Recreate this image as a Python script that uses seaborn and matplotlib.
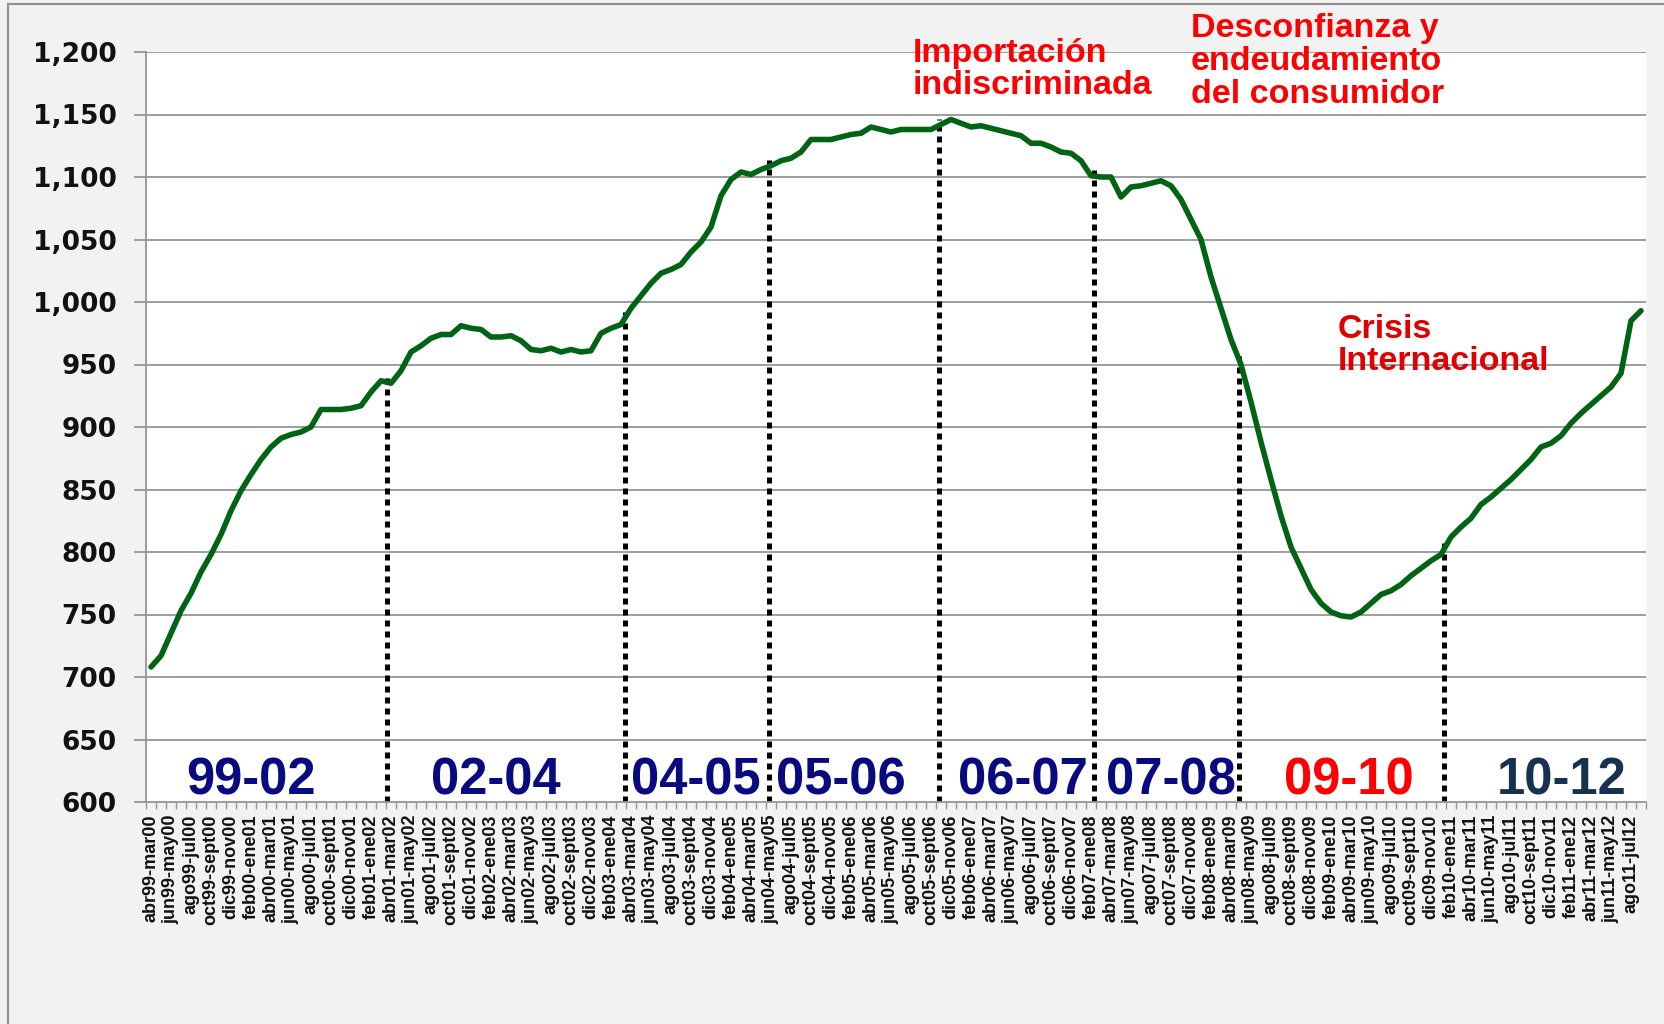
import numpy as np
import pandas as pd
import matplotlib
matplotlib.use("Agg")
import matplotlib.pyplot as plt
from matplotlib.lines import Line2D
import seaborn as sns

# ---------------- data ----------------
months = ['ene', 'feb', 'mar', 'abr', 'may', 'jun', 'jul', 'ago', 'sept', 'oct', 'nov', 'dic']
start_month = 3      # abr
start_year = 1999

values = [
    708, 717, 735, 753, 767, 784, 798, 814, 833, 849,
    862, 874, 884, 891, 894, 896, 900, 914, 914, 914,
    915, 917, 928, 937, 935, 945, 960, 965, 971, 974,
    974, 981, 979, 978, 972, 972, 973, 969, 962, 961,
    963, 960, 962, 960, 961, 975, 979, 982, 995, 1005,
    1015, 1023, 1026, 1030, 1040, 1048, 1060, 1085, 1098, 1104,
    1102, 1106, 1109, 1113, 1115, 1120, 1130, 1130, 1130, 1132,
    1134, 1135, 1140, 1138, 1136, 1138, 1138, 1138, 1138, 1142,
    1146, 1143, 1140, 1141, 1139, 1137, 1135, 1133, 1127, 1127,
    1124, 1120, 1119, 1113, 1101, 1100, 1100, 1084, 1092, 1093,
    1095, 1097, 1093, 1082, 1066, 1050, 1020, 995, 970, 950,
    920, 888, 858, 829, 804, 787, 770, 759, 752, 749,
    748, 752, 759, 766, 769, 774, 781, 787, 793, 798,
    812, 820, 827, 838, 844, 851, 858, 866, 874, 884,
    887, 893, 903, 911, 918, 925, 932, 943, 985, 993,
]

def period_label(i):
    m1 = start_month + i
    y1 = start_year + m1 // 12
    m2 = m1 + 11
    y2 = start_year + m2 // 12
    return f"{months[m1 % 12]}{y1 % 100:02d}-{months[m2 % 12]}{y2 % 100:02d}"

categories = [period_label(i) for i in range(len(values))]

# vertical dotted separators (category positions)
separators = [23.6, 47.4, 61.8, 78.8, 94.3, 108.8, 129.3]

period_names = ['99-02', '02-04', '04-05', '05-06', '06-07', '07-08', '09-10', '10-12']
period_pos = [10.0, 34.5, 54.5, 69.0, 87.2, 102.0, 119.8, 141.1]
period_colors = ['#0A0A80', '#0A0A80', '#0A0A80', '#0A0A80', '#0A0A80', '#0A0A80', '#FF0000', '#17324F']

notes = ['Importación\nindiscriminada', 'Desconfianza y\nendeudamiento\ndel consumidor', 'Crisis\nInternacional']
note_pos = [(76.2, 1211), (104.0, 1231), (118.7, 990)]
note_colors = ['#FF0000', '#FF0000', '#E00000']
note_spacing = [1.05, 1.08, 1.0]

yticks = [600, 650, 700, 750, 800, 850, 900, 950, 1000, 1050, 1100, 1150, 1200]

df = pd.DataFrame({'idx': np.arange(len(values)), 'valor': values, 'periodo': categories})

# ---------------- style ----------------
sns.set_theme(style="white")
plt.rcParams['font.family'] = ['Liberation Sans', 'DejaVu Sans']

fig = plt.figure(figsize=(16.65, 10.24), dpi=100, facecolor='#F2F2F2')
ax = fig.add_axes([146 / 1665, 1 - 802 / 1024, 1500 / 1665, 750 / 1024])
ax.set_facecolor('white')

# grid
for v in yticks[1:]:
    ax.axhline(v, color='#959595', lw=1.3, zorder=1)

# separators
vals = np.array(values, dtype=float)
for s in separators:
    top = np.interp(s, df['idx'], vals) + 5
    ax.plot([s, s], [600, top], color='black', lw=3.6,
            linestyle=(0, (1.2, 1.0)), zorder=2, dash_capstyle='butt')

sns.lineplot(data=df, x='idx', y='valor', ax=ax, color='#006414', lw=4.0,
             sort=False, zorder=3)

# period labels
for name, p, c in zip(period_names, period_pos, period_colors):
    ax.text(p, 606, name, ha='center', va='baseline', fontsize=36.5,
            fontweight='bold', color=c, zorder=4)

# red notes
for txt, (px, py), col, ls in zip(notes, note_pos, note_colors, note_spacing):
    ax.text(px, py, txt, ha='left', va='top', fontsize=24.5, fontweight='bold',
            color=col, linespacing=ls, clip_on=False, zorder=5)

# axes
n = len(values)
ax.set_xlim(-0.5, n - 0.5)
ax.set_ylim(600, 1200)
ax.set_yticks(yticks)
ax.set_yticklabels([f"{v:,}" for v in yticks], fontsize=19, fontweight='bold',
                   family='DejaVu Sans', color='#111111')
ax.tick_params(axis='y', length=9, width=1.3, color='#959595', pad=12, left=True)

ax.set_xticks(np.arange(0, n, 2))
ax.set_xticklabels(categories[::2], rotation=90, fontsize=13, fontweight='bold',
                   color='#111111')
ax.set_xticks(np.arange(-0.5, n, 1), minor=True)
ax.tick_params(axis='x', which='major', length=0, pad=9)
ax.tick_params(axis='x', which='minor', length=5, width=1.0, color='#959595', bottom=True)
ax.set_xlabel('')
ax.set_ylabel('')

for side in ['top', 'right']:
    ax.spines[side].set_visible(False)
for side in ['left', 'bottom']:
    ax.spines[side].set_color('#959595')
    ax.spines[side].set_linewidth(1.3)

# outer chart border (cut at right/bottom)
fig.add_artist(Line2D([8 / 1665, 8 / 1665], [0, 1 - 4 / 1024], color='#8E8E8E', lw=1.5,
                      transform=fig.transFigure))
fig.add_artist(Line2D([8 / 1665, 1], [1 - 4 / 1024, 1 - 4 / 1024], color='#8E8E8E', lw=1.5,
                      transform=fig.transFigure))

fig.savefig('out.png', dpi=100, facecolor=fig.get_facecolor())
